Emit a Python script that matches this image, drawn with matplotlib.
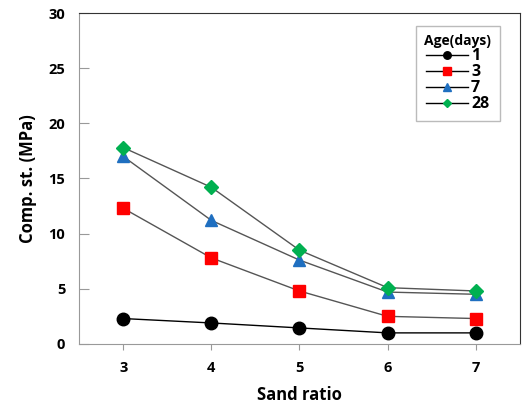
import matplotlib.pyplot as plt
from matplotlib.lines import Line2D

plt.rcParams['font.family'] = ['Open Sans', 'DejaVu Sans']

sand_ratio = [3, 4, 5, 6, 7]
age_labels = ['1', '3', '7', '28']
day1 = [2.3, 1.9, 1.45, 1.0, 1.0]
day3 = [12.3, 7.8, 4.8, 2.5, 2.3]
day7 = [17.0, 11.2, 7.6, 4.7, 4.5]
day28 = [17.8, 14.2, 8.5, 5.1, 4.8]

fig = plt.figure(figsize=(5.24, 4.07), dpi=100)
ax = fig.add_axes([0.151, 0.155, 0.841, 0.813])

styles = [
    (day1, 'o', '#000000', 9, '#000000'),
    (day3, 's', '#ff0000', 9, '#555555'),
    (day7, '^', '#1f6fc0', 9, '#555555'),
    (day28, 'D', '#00b050', 7, '#555555'),
]
handles = []
for (vals, mk, col, ms, lc), lab in zip(styles, age_labels):
    ax.plot(sand_ratio, vals, color=lc, lw=1.0, marker=mk, markersize=ms,
            markerfacecolor=col, markeredgecolor=col)
    handles.append(Line2D([], [], color='#000000', lw=1.0, marker=mk,
                          markersize=ms * 0.6, markerfacecolor=col,
                          markeredgecolor=col, label=lab))

ax.set_xlim(2.5, 7.5)
ax.set_ylim(0, 30)
ax.set_xticks(sand_ratio)
ax.set_yticks(range(0, 31, 5))

for s in ['left', 'bottom']:
    ax.spines[s].set_color('#999999')
for s in ['top', 'right']:
    ax.spines[s].set_color('#333333')
ax.tick_params(axis='y', direction='in', length=7, color='#999999', pad=10)
ax.tick_params(axis='x', direction='out', length=4, color='#999999', pad=8)
for t in ax.get_xticklabels() + ax.get_yticklabels():
    t.set_fontweight('bold')
    t.set_fontsize(10.5)

ax.set_xlabel('Sand ratio', fontsize=12, fontweight='bold', labelpad=8)
ax.set_ylabel('Comp. st. (MPa)', fontsize=12, fontweight='bold', labelpad=8)

leg = ax.legend(handles=handles, title='Age(days)', loc='upper right',
                bbox_to_anchor=(0.955, 0.962), borderaxespad=0,
                fancybox=False, edgecolor='#bbbbbb', framealpha=1,
                prop={'weight': 'bold', 'size': 11.5}, handlelength=2.6,
                handletextpad=0.2, labelspacing=0.0, borderpad=0.55)
leg.get_title().set_fontweight('bold')
leg.get_title().set_fontsize(10)
leg._legend_box.align = 'center'

fig.savefig('out.png', dpi=100)
